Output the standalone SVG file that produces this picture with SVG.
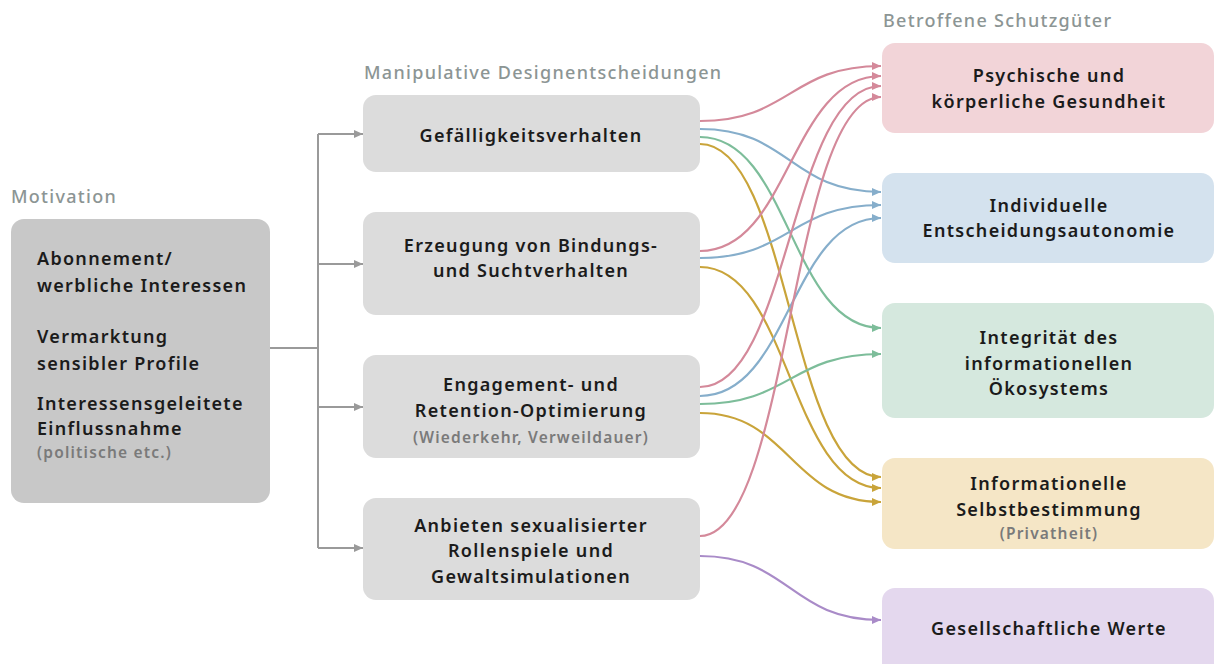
<svg xmlns="http://www.w3.org/2000/svg" width="1215" height="664" viewBox="0 0 1215 664">
<defs>
<style>
.t{font-family:"Noto Sans","DejaVu Sans",sans-serif;font-weight:600;font-size:18px;letter-spacing:1.3px;fill:#1b1b1b}
.m{text-anchor:middle}
.s{font-family:"Noto Sans","DejaVu Sans",sans-serif;font-weight:600;font-size:15.5px;letter-spacing:1.2px;fill:#7a7a7a}
.h{font-family:"Noto Sans","DejaVu Sans",sans-serif;font-weight:500;font-size:18px;letter-spacing:1.3px;fill:#8c9594}
.c{fill:none;stroke-width:2.2}
.g{fill:none;stroke:#9a9a9a;stroke-width:2}
</style>
<marker id="aGray" markerUnits="userSpaceOnUse" markerWidth="10" markerHeight="10" refX="9" refY="4" orient="auto"><path d="M0,0 L9,4 L0,8 z" fill="#9a9a9a"/></marker>
<marker id="aPink" markerUnits="userSpaceOnUse" markerWidth="10" markerHeight="10" refX="9" refY="4" orient="auto"><path d="M0,0 L9,4 L0,8 z" fill="#d4899a"/></marker>
<marker id="aBlue" markerUnits="userSpaceOnUse" markerWidth="10" markerHeight="10" refX="9" refY="4" orient="auto"><path d="M0,0 L9,4 L0,8 z" fill="#86aecb"/></marker>
<marker id="aGreen" markerUnits="userSpaceOnUse" markerWidth="10" markerHeight="10" refX="9" refY="4" orient="auto"><path d="M0,0 L9,4 L0,8 z" fill="#7dbd9a"/></marker>
<marker id="aYellow" markerUnits="userSpaceOnUse" markerWidth="10" markerHeight="10" refX="9" refY="4" orient="auto"><path d="M0,0 L9,4 L0,8 z" fill="#c9a43a"/></marker>
<marker id="aPurple" markerUnits="userSpaceOnUse" markerWidth="10" markerHeight="10" refX="9" refY="4" orient="auto"><path d="M0,0 L9,4 L0,8 z" fill="#a98bc8"/></marker>
</defs>
<rect width="1215" height="664" fill="#ffffff"/>

<text class="h" x="11" y="203">Motivation</text>
<text class="h" x="364" y="79">Manipulative Designentscheidungen</text>
<text class="h" x="883" y="27">Betroffene Schutzgüter</text>

<g id="connectors">
<g id="left-connectors">
<path class="g" d="M270,348 H318"/>
<path class="g" d="M318,134 V548"/>
<path class="g" d="M318,134 H363" marker-end="url(#aGray)"/>
<path class="g" d="M318,264 H363" marker-end="url(#aGray)"/>
<path class="g" d="M318,407 H363" marker-end="url(#aGray)"/>
<path class="g" d="M318,548 H363" marker-end="url(#aGray)"/>
</g>
<g id="right-connectors">
<path class="c" stroke="#d4899a" d="M700,121 C790,121 790,66 881,66" marker-end="url(#aPink)"/>
<path class="c" stroke="#86aecb" d="M700,129 C790,129 790,192 881,192" marker-end="url(#aBlue)"/>
<path class="c" stroke="#7dbd9a" d="M700,137 C790,137 790,328 881,328" marker-end="url(#aGreen)"/>
<path class="c" stroke="#c9a43a" d="M700,144 C790,144 790,477 881,477" marker-end="url(#aYellow)"/>

<path class="c" stroke="#d4899a" d="M700,251 C790,251 790,76 881,76" marker-end="url(#aPink)"/>
<path class="c" stroke="#86aecb" d="M700,258 C790,258 790,205 881,205" marker-end="url(#aBlue)"/>
<path class="c" stroke="#c9a43a" d="M700,267 C790,267 790,488 881,488" marker-end="url(#aYellow)"/>

<path class="c" stroke="#d4899a" d="M700,387 C790,387 790,86 881,86" marker-end="url(#aPink)"/>
<path class="c" stroke="#86aecb" d="M700,396 C790,396 790,218 881,218" marker-end="url(#aBlue)"/>
<path class="c" stroke="#7dbd9a" d="M700,404 C790,404 790,354 881,354" marker-end="url(#aGreen)"/>
<path class="c" stroke="#c9a43a" d="M700,413 C790,413 790,502 881,502" marker-end="url(#aYellow)"/>

<path class="c" stroke="#d4899a" d="M700,536 C790,536 790,97 881,97" marker-end="url(#aPink)"/>
<path class="c" stroke="#a98bc8" d="M700,556 C790,556 790,620 881,620" marker-end="url(#aPurple)"/>
</g>
</g>

<g id="motivation">
<rect x="11" y="219" width="259" height="284" rx="13" fill="#c8c8c8"/>
<text class="t" x="37" y="265">Abonnement/</text>
<text class="t" x="37" y="292">werbliche Interessen</text>
<text class="t" x="37" y="343">Vermarktung</text>
<text class="t" x="37" y="370">sensibler Profile</text>
<text class="t" x="37" y="410">Interessensgeleitete</text>
<text class="t" x="37" y="435">Einflussnahme</text>
<text class="s" x="37" y="458">(politische etc.)</text>
</g>

<g id="gefaelligkeit">
<rect x="363" y="95" width="337" height="77" rx="13" fill="#dcdcdc"/>
<text class="t m" x="531" y="142">Gefälligkeitsverhalten</text>
</g>
<g id="bindung">
<rect x="363" y="212" width="337" height="103" rx="13" fill="#dcdcdc"/>
<text class="t m" x="531" y="252">Erzeugung von Bindungs-</text>
<text class="t m" x="531" y="277">und Suchtverhalten</text>
</g>
<g id="engagement">
<rect x="363" y="355" width="337" height="103" rx="13" fill="#dcdcdc"/>
<text class="t m" x="531" y="391">Engagement- und</text>
<text class="t m" x="531" y="417">Retention-Optimierung</text>
<text class="s m" x="531" y="443">(Wiederkehr, Verweildauer)</text>
</g>
<g id="rollenspiele">
<rect x="363" y="498" width="337" height="102" rx="13" fill="#dcdcdc"/>
<text class="t m" x="531" y="532">Anbieten sexualisierter</text>
<text class="t m" x="531" y="557">Rollenspiele und</text>
<text class="t m" x="531" y="583">Gewaltsimulationen</text>
</g>

<g id="gesundheit">
<rect x="882" y="43" width="332" height="90" rx="13" fill="#f2d4d8"/>
<text class="t m" x="1049" y="82">Psychische und</text>
<text class="t m" x="1049" y="108">körperliche Gesundheit</text>
</g>
<g id="autonomie">
<rect x="882" y="173" width="332" height="90" rx="13" fill="#d4e2ee"/>
<text class="t m" x="1049" y="212">Individuelle</text>
<text class="t m" x="1049" y="237">Entscheidungsautonomie</text>
</g>
<g id="oekosystem">
<rect x="882" y="303" width="332" height="115" rx="13" fill="#d5e8de"/>
<text class="t m" x="1049" y="344">Integrität des</text>
<text class="t m" x="1049" y="370">informationellen</text>
<text class="t m" x="1049" y="395">Ökosystems</text>
</g>
<g id="selbstbestimmung">
<rect x="882" y="458" width="332" height="91" rx="13" fill="#f5e6c6"/>
<text class="t m" x="1049" y="490">Informationelle</text>
<text class="t m" x="1049" y="516">Selbstbestimmung</text>
<text class="s m" x="1049" y="539">(Privatheit)</text>
</g>
<g id="werte">
<rect x="882" y="588" width="332" height="90" rx="13" fill="#e4d8ee"/>
<text class="t m" x="1049" y="635">Gesellschaftliche Werte</text>
</g>
</svg>
